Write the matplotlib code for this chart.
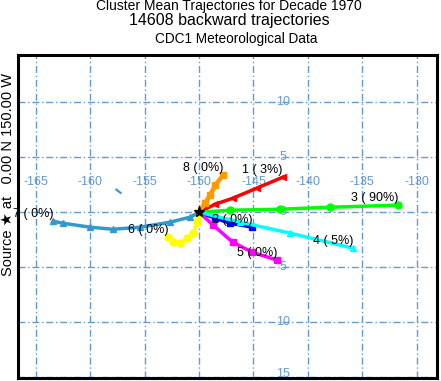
import matplotlib
matplotlib.use("Agg")
import matplotlib.pyplot as plt

# cluster mean trajectories (lon, lat), starting at the source
source = (-150.0, 0.0)
c1_lon = [-150.0, -148.5, -146.9, -144.7, -142.3]
c1_lat = [0.0, 0.73, 1.27, 2.18, 3.18]
c2_lon = [-150.0, -148.5, -147.15, -145.1]
c2_lat = [0.0, -0.55, -1.0, -1.36]
c3_lon = [-150.0, -147.15, -142.6, -138.0, -131.7]
c3_lat = [0.0, 0.18, 0.27, 0.45, 0.64]
c4_lon = [-150.0, -146.2, -141.6, -135.85]
c4_lat = [0.0, -0.91, -1.91, -3.27]
c5_lon = [-150.0, -148.7, -146.9, -145.1, -142.8]
c5_lat = [0.0, -1.18, -2.73, -3.64, -4.36]
c6_lon = [-150.0, -150.1, -150.2, -150.55, -151.1, -151.75, -152.4, -152.85]
c6_lat = [0.0, -0.27, -0.91, -1.91, -2.36, -2.82, -2.73, -2.27]
c7_lon = [-150.0, -150.8, -152.7, -155.4, -157.9, -160.0, -162.5, -163.4]
c7_lat = [0.0, -0.45, -0.91, -1.36, -1.55, -1.36, -1.0, -0.82]
c8_lon = [-150.0, -149.45, -149.0, -148.5, -147.8]
c8_lat = [0.0, 0.82, 1.55, 2.45, 3.36]
pct = [3, 0, 90, 5, 0, 0, 0, 0]

# small stray mark near -157.4, 1.9
stray_lon = [-157.6, -157.2]
stray_lat = [2.05, 1.75]

lon_ticks = [-165, -160, -155, -150, -145, -140, -135, -130]
lat_ticks = [10, 5, 0, -5, -10, -15]
lat_labels = ["10", "5", "0", "5", "10", "15"]

clusters = [(c1_lon, c1_lat, "red", "<"),
            (c2_lon, c2_lat, "blue", "s"),
            (c3_lon, c3_lat, "#00ff00", "o"),
            (c4_lon, c4_lat, "cyan", "^"),
            (c5_lon, c5_lat, "magenta", "s"),
            (c6_lon, c6_lat, "yellow", "o"),
            (c7_lon, c7_lat, "#3399cc", "^"),
            (c8_lon, c8_lat, "#ff9900", "s")]

plt.rcParams["font.family"] = ["Liberation Sans", "DejaVu Sans"]
grid_col = "#6699cc"

fig = plt.figure(figsize=(4.41, 3.81), dpi=100)
ax = fig.add_axes([18 / 441, 3 / 381, 419 / 441, 323 / 381])
ax.set_xlim(-166.63, -128.14)
ax.set_ylim(-15.05, 14.27)

ax.set_xticks(lon_ticks)
ax.set_yticks(lat_ticks)
ax.tick_params(length=0, labelbottom=False, labelleft=False)
ax.grid(True, color=grid_col, linewidth=1, linestyle=(0, (5, 2, 1, 2)))
for s in ax.spines.values():
    s.set_linewidth(2.2)
    s.set_color("black")

# grid labels
for lo in lon_ticks:
    ax.text(lo, 2.73, str(lo), color=grid_col, fontsize=9, ha="center", va="center")
for la, lab in zip(lat_ticks, lat_labels):
    y = la + 0.35 if la == -15 else la
    ax.text(-142.3, y, lab, color=grid_col, fontsize=9, ha="center", va="center")

ax.plot(stray_lon, stray_lat, color="#3399cc", linewidth=1.5)

# trajectories
for i, (lo, la, col, mk) in enumerate(clusters):
    lw = 3.2 if col == "#ff9900" else 2.5
    ax.plot(lo, la, color=col, linewidth=lw, marker=mk, markersize=5,
            markevery=list(range(1, len(lo))), markeredgecolor=col, zorder=3)
    ax.text(lo[-1], la[-1] + 0.15, f"{i + 1} ( {pct[i]}%)", fontsize=9,
            ha="right", va="bottom", zorder=5)

ax.plot(*source, marker="*", color="black", markersize=8, zorder=6)

fig.text(0.52, 1 - 6 / 381, "Cluster Mean Trajectories for Decade 1970", fontsize=10,
         ha="center", va="center")
fig.text(0.52, 1 - 21 / 381, "14608 backward trajectories", fontsize=11.5,
         ha="center", va="center")
fig.text(0.535, 1 - 39 / 381, "CDC1 Meteorological Data", fontsize=9.8,
         ha="center", va="center")
fig.text(8 / 441, 1 - 175 / 381, "Source \u2605 at   0.00 N 150.00 W", fontsize=10.5,
         rotation=90, ha="center", va="center")

fig.savefig("out.png", dpi=100)
